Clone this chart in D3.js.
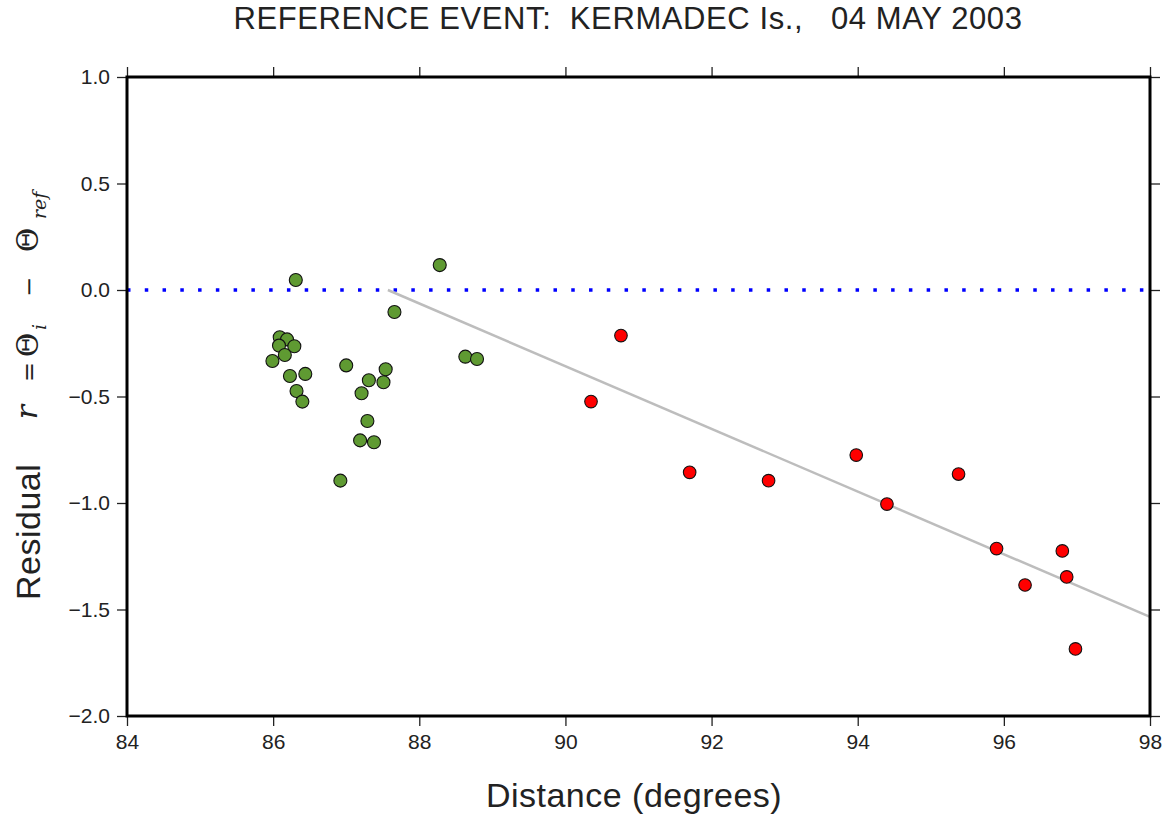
<!DOCTYPE html>
<html>
<head>
<meta charset="utf-8">
<script src="https://cdn.jsdelivr.net/npm/d3@7"></script>
<style>
  body { margin: 0; background: #fff; }
  text { font-family: "Liberation Sans", Arial, sans-serif; fill: #222; }
</style>
</head>
<body>
<div id="canvas"></div>
<script>
// stations before the reference (green) and after it (red)
var greenDist = [86.31, 88.28, 87.66, 86.09, 86.19, 86.08, 86.29, 86.16, 85.99, 87.00, 88.63, 88.79,
  86.23, 86.44, 87.54, 87.31, 87.51, 86.32, 87.21, 86.40, 87.29, 87.19, 87.38, 86.92];
var greenRes = [0.047, 0.117, -0.103, -0.222, -0.232, -0.261, -0.264, -0.305, -0.333, -0.354, -0.313, -0.324,
  -0.404, -0.394, -0.372, -0.424, -0.433, -0.474, -0.485, -0.524, -0.615, -0.706, -0.715, -0.895];

var redDist = [90.35, 90.76, 91.70, 92.78, 93.98, 94.40, 95.38, 95.90, 96.29, 96.80, 96.86, 96.98];
var redRes = [-0.524, -0.214, -0.856, -0.895, -0.775, -1.005, -0.864, -1.214, -1.385, -1.225, -1.347, -1.685];

// fitted trend line
var fitDist = [87.57, 98];
var fitRes = [0, -1.535];

var xTicks = [84, 86, 88, 90, 92, 94, 96, 98];
var yTicks = [1.0, 0.5, 0.0, -0.5, -1.0, -1.5, -2.0];

var width = 1170,
  height = 818;
var margin = { top: 77, right: 20, bottom: 102, left: 127 };

var svg = d3
  .select("#canvas")
  .append("svg")
  .attr("width", width)
  .attr("height", height);

var x = d3.scaleLinear().domain([84, 98]).range([margin.left, width - margin.right]);
var y = d3.scaleLinear().domain([-2, 1]).range([height - margin.bottom, margin.top]);

var fmtY = function(d) {
  return d3.format(".1f")(d).replace("-", "\u2212");
};

// ticks on all four sides, outward
function tickStyle(g) {
  g.select(".domain").remove();
  g.selectAll(".tick line").attr("stroke", "#222").attr("stroke-width", 1.3);
  g.selectAll(".tick text").style("font-size", "21px").attr("fill", "#222");
}

svg.append("g")
  .attr("transform", "translate(0," + y(-2) + ")")
  .call(d3.axisBottom(x).tickValues(xTicks).tickSize(10).tickPadding(8).tickFormat(d3.format("d")))
  .call(tickStyle);

svg.append("g")
  .attr("transform", "translate(0," + y(1) + ")")
  .call(d3.axisTop(x).tickValues(xTicks).tickSize(10).tickFormat(""))
  .call(tickStyle);

svg.append("g")
  .attr("transform", "translate(" + x(84) + ",0)")
  .call(d3.axisLeft(y).tickValues(yTicks).tickSize(10).tickPadding(7).tickFormat(fmtY))
  .call(tickStyle);

svg.append("g")
  .attr("transform", "translate(" + x(98) + ",0)")
  .call(d3.axisRight(y).tickValues(yTicks).tickSize(10).tickFormat(""))
  .call(tickStyle);

// zero reference (dotted blue)
svg.append("line")
  .attr("x1", x(84))
  .attr("x2", x(98))
  .attr("y1", y(0))
  .attr("y2", y(0))
  .attr("stroke", "#0000ff")
  .attr("stroke-width", 3.5)
  .attr("stroke-dasharray", "3.5,14.27");

// trend line
svg.append("path")
  .datum(d3.zip(fitDist, fitRes))
  .attr("fill", "none")
  .attr("stroke", "#bdbdbd")
  .attr("stroke-width", 2.5)
  .attr("d", d3.line().x(function(d) { return x(d[0]); }).y(function(d) { return y(d[1]); }));

svg.append("g")
  .selectAll("circle")
  .data(d3.zip(greenDist, greenRes))
  .enter()
  .append("circle")
  .attr("cx", function(d) { return x(d[0]); })
  .attr("cy", function(d) { return y(d[1]); })
  .attr("r", 6.5)
  .attr("fill", "#5f9a32")
  .attr("stroke", "#111")
  .attr("stroke-width", 1.1);

svg.append("g")
  .selectAll("circle")
  .data(d3.zip(redDist, redRes))
  .enter()
  .append("circle")
  .attr("cx", function(d) { return x(d[0]); })
  .attr("cy", function(d) { return y(d[1]); })
  .attr("r", 6.3)
  .attr("fill", "#ff0000")
  .attr("stroke", "#111")
  .attr("stroke-width", 1.1);

// frame
svg.append("rect")
  .attr("x", x(84))
  .attr("y", y(1))
  .attr("width", x(98) - x(84))
  .attr("height", y(-2) - y(1))
  .attr("fill", "none")
  .attr("stroke", "#000")
  .attr("stroke-width", 3);

// title
svg.append("text")
  .attr("x", 628)
  .attr("y", 29)
  .attr("text-anchor", "middle")
  .style("font-size", "31px")
  .style("letter-spacing", "0.6px")
  .style("white-space", "pre")
  .text("REFERENCE EVENT:  KERMADEC Is.,   04 MAY 2003");

svg.append("text")
  .attr("x", 634)
  .attr("y", 807)
  .attr("text-anchor", "middle")
  .style("font-size", "34px")
  .style("letter-spacing", "0.5px")
  .text("Distance (degrees)");

// y label, built piece by piece along the rotated axis
var ylab = svg.append("g").attr("transform", "translate(40,600) rotate(-90)");
ylab.append("text")
  .attr("x", 0)
  .attr("y", 0)
  .style("font-size", "34px")
  .style("letter-spacing", "0.5px")
  .text("Residual");

var serif = '"DejaVu Serif", "Liberation Serif", serif';
function piece(txt, px, py, size, italic, anchor) {
  ylab.append("text")
    .attr("x", px)
    .attr("y", py)
    .attr("text-anchor", anchor || "start")
    .style("font-family", serif)
    .style("font-size", size + "px")
    .style("font-style", italic ? "italic" : "normal")
    .text(txt);
}
piece("r", 188, -3, 30, true, "middle");
piece("=", 228, -3, 24, false, "middle");
piece("\u0398", 255, -2, 30, false, "middle");
piece("i", 270, 6, 19, true);
piece("\u2212", 313, -3, 24, false, "middle");
piece("\u0398", 360, -2, 30, false, "middle");
piece("ref", 381, 6, 19, true);
</script>
</body>
</html>
